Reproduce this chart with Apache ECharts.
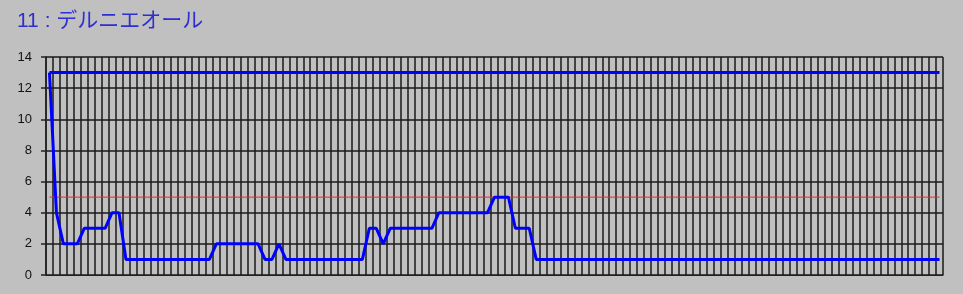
<!DOCTYPE html>
<html>
<head>
<meta charset="utf-8">
<script src="https://cdn.jsdelivr.net/npm/echarts@6/dist/echarts.min.js"></script>
<style>
html,body{margin:0;padding:0;background:#c0c0c0;}
#c{width:963px;height:294px;}
</style>
</head>
<body>
<div id="c"></div>
<script>
var titleText = '11 : デルニエオール';
var yTicks = [0, 2, 4, 6, 8, 10, 12, 14];
var rankValues = [
  13, 4, 2, 2, 2, 3, 3, 3, 3, 4,
  4, 1, 1, 1, 1, 1, 1, 1, 1, 1,
  1, 1, 1, 1, 2, 2, 2, 2, 2, 2,
  2, 1, 1, 2, 1, 1, 1, 1, 1, 1,
  1, 1, 1, 1, 1, 1, 3, 3, 2, 3,
  3, 3, 3, 3, 3, 3, 4, 4, 4, 4,
  4, 4, 4, 4, 5, 5, 5, 3, 3, 3,
  1, 1, 1, 1, 1, 1, 1, 1, 1, 1,
  1, 1, 1, 1, 1, 1, 1, 1, 1, 1,
  1, 1, 1, 1, 1, 1, 1, 1, 1, 1,
  1, 1, 1, 1, 1, 1, 1, 1, 1, 1,
  1, 1, 1, 1, 1, 1, 1, 1, 1, 1,
  1, 1, 1, 1, 1, 1, 1, 1, 1
];
var maxValue = 13;
var refValue = 5;

var categories = rankValues.map(function (v, i) { return String(i + 1); });
var maxLine = rankValues.map(function () { return maxValue; });
var refLine = rankValues.map(function () { return refValue; });

var chart = echarts.init(document.getElementById('c'), null, {renderer: 'canvas'});
chart.setOption({
  backgroundColor: '#c0c0c0',
  animation: false,
  title: {
    text: titleText,
    left: 12,
    top: 6,
    textStyle: {
      color: '#2e2ed2',
      fontSize: 21,
      fontWeight: 'normal',
      fontFamily: '"Liberation Sans", "Noto Sans CJK JP", sans-serif'
    }
  },
  grid: {left: 46, right: 20, top: 57, bottom: 19, containLabel: false},
  xAxis: {
    type: 'category',
    data: categories,
    boundaryGap: true,
    axisLine: {show: true, lineStyle: {color: '#222', width: 1}},
    axisTick: {show: false},
    axisLabel: {show: false},
    splitLine: {show: true, interval: 0, lineStyle: {color: '#1a1a1a', width: 1.5}}
  },
  yAxis: {
    type: 'value',
    min: yTicks[0],
    max: yTicks[yTicks.length - 1],
    interval: 2,
    axisLine: {show: true, lineStyle: {color: '#222', width: 1.5}},
    axisTick: {show: true, length: 5, lineStyle: {color: '#222', width: 1.5}},
    axisLabel: {
      color: '#111',
      fontSize: 13,
      margin: 14,
      fontFamily: '"Liberation Sans", Arial, sans-serif'
    },
    splitLine: {show: true, lineStyle: {color: '#1a1a1a', width: 1.5}}
  },
  series: [
    {
      type: 'line',
      data: maxLine,
      symbol: 'none',
      lineStyle: {color: '#0000ff', width: 3},
      z: 3
    },
    {
      type: 'line',
      data: refLine,
      symbol: 'none',
      lineStyle: {color: '#ff2020', width: 1},
      z: 2
    },
    {
      type: 'line',
      data: rankValues,
      symbol: 'none',
      lineStyle: {color: '#0000ff', width: 3},
      z: 4
    }
  ]
});
</script>
</body>
</html>
